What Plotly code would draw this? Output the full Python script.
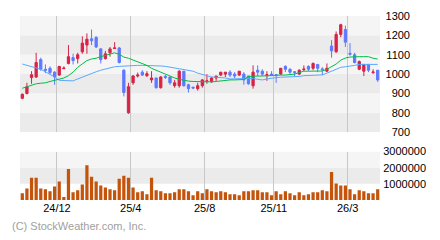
import plotly.graph_objects as go

idx = list(range(78))

opens = [875, 900, 982, 985, 1075, 1025, 1030, 1010, 995, 1028,
         1055, 1085, 1080, 1115, 1150, 1182, 1190, 1130, 1080, 1110,
         1132, 1135, 1020, 800, 955, 990, 1010, 992, 970, 980,
         930, 988, 985, 940, 940, 1015, 945, 932, 925, 940,
         962, 960, 980, 995, 1000, 1010, 1000, 995, 1000, 990,
         940, 1020, 1015, 993, 1000, 997, 1000, 1040, 1025, 1012,
         1000, 1023, 1040, 1030, 1050, 1027, 1015, 1145, 1115, 1205,
         1230, 1107, 1100, 1025, 1015, 1050, 1008, 1020]
highs = [900, 955, 1015, 1110, 1085, 1050, 1040, 1015, 1040, 1040,
         1150, 1105, 1110, 1195, 1210, 1230, 1195, 1135, 1120, 1140,
         1165, 1140, 1025, 955, 995, 1008, 1020, 1015, 1015, 980,
         990, 995, 985, 970, 1020, 1015, 950, 935, 955, 975,
         1000, 985, 990, 1010, 1010, 1020, 1010, 1015, 1010, 990,
         1045, 1045, 1025, 1015, 1015, 1000, 1030, 1045, 1030, 1015,
         1025, 1045, 1045, 1060, 1050, 1035, 1055, 1175, 1220, 1260,
         1250, 1160, 1110, 1070, 1050, 1050, 1025, 1020]
lows = [870, 895, 950, 980, 1017, 1005, 1000, 945, 990, 1027,
        1050, 1050, 1055, 1105, 1105, 1150, 1135, 1055, 1075, 1090,
        1130, 1055, 885, 795, 945, 983, 990, 985, 955, 925,
        925, 975, 945, 930, 930, 935, 905, 925, 915, 930,
        950, 955, 965, 990, 985, 985, 980, 990, 945, 945,
        925, 990, 990, 965, 990, 955, 995, 1010, 1000, 990,
        995, 1015, 1015, 1020, 1010, 995, 1010, 1085, 1110, 1190,
        1140, 1095, 1055, 1020, 990, 1010, 1000, 960]
closes = [896, 935, 997, 1060, 1025, 1020, 1008, 985, 1040, 1031,
          1090, 1070, 1100, 1160, 1180, 1172, 1140, 1075, 1105, 1130,
          1135, 1060, 905, 935, 990, 995, 995, 1002, 980, 930,
          985, 983, 955, 955, 1015, 940, 925, 928, 940, 970,
          965, 980, 990, 1010, 1010, 995, 990, 1015, 970, 950,
          1010, 1010, 1000, 997, 995, 994, 1030, 1025, 1010, 1009,
          1020, 1026, 1025, 1055, 1030, 1024, 1030, 1120, 1205, 1255,
          1165, 1103, 1060, 1065, 1050, 1020, 1011, 970]

volumes = [420000, 720000, 1380000, 1380000, 720000, 660000, 540000, 840000, 1140000, 180000,
           1920000, 480000, 600000, 960000, 2160000, 1440000, 1140000, 900000, 780000, 660000,
           600000, 1320000, 1500000, 1380000, 780000, 480000, 540000, 360000, 1380000, 600000,
           540000, 420000, 420000, 480000, 660000, 660000, 540000, 300000, 540000, 420000,
           660000, 540000, 480000, 540000, 480000, 360000, 360000, 300000, 540000, 540000,
           600000, 600000, 480000, 480000, 300000, 540000, 360000, 540000, 420000, 300000,
           480000, 300000, 360000, 480000, 480000, 600000, 540000, 1740000, 1020000, 900000,
           900000, 660000, 360000, 600000, 540000, 420000, 420000, 660000]

ma_short = [927, 935, 945, 950, 953, 955, 962, 968, 972, 980,
            992, 1010, 1035, 1052, 1070, 1078, 1082, 1090, 1097, 1105,
            1110, 1102, 1088, 1082, 1073, 1065, 1057, 1045, 1030, 1020,
            1008, 1000, 990, 980, 973, 967, 964, 962, 961, 960,
            960, 960, 962, 965, 970, 970, 970, 970, 972, 988,
            990, 990, 990, 992, 993, 994, 995, 995, 997, 1000,
            1008, 1015, 1015, 1015, 1015, 1016, 1025, 1040, 1052, 1072,
            1083, 1088, 1090, 1090, 1090, 1090, 1082, 1078]
ma_long = [1052, 1045, 1040, 1030, 1025, 1012, 1000, 985, 968, 966,
           965, 965, 975, 985, 995, 1005, 1012, 1020, 1027, 1032,
           1038, 1040, 1042, 1043, 1044, 1045, 1045, 1045, 1045, 1044,
           1042, 1040, 1036, 1032, 1028, 1024, 1020, 1015, 1005, 998,
           990, 985, 984, 983, 980, 975, 975, 975, 975, 977,
           978, 973, 970, 975, 980, 982, 984, 985, 985, 985,
           988, 992, 993, 994, 995, 996, 1005, 1015, 1025, 1035,
           1038, 1040, 1045, 1050, 1050, 1050, 1050, 1050]

tick_pos = [7.5, 23.5, 39.5, 54.5, 70.5]
tick_text = ["24/12", "25/4", "25/8", "25/11", "26/3"]
price_ticks = [700, 800, 900, 1000, 1100, 1200, 1300]
vol_ticks = [1000000, 2000000, 3000000]

RED = "#d72346"
BLUE = "#5f78ff"
FONT = "Liberation Sans, Arial, sans-serif"

fig = go.Figure()

fig.add_trace(go.Candlestick(
    x=idx, open=opens, high=highs, low=lows, close=closes,
    xaxis="x2", yaxis="y2", whiskerwidth=0,
    increasing=dict(line=dict(color=RED, width=1), fillcolor=RED),
    decreasing=dict(line=dict(color=BLUE, width=1), fillcolor=BLUE),
    showlegend=False, hoverinfo="skip"))
fig.add_trace(go.Scatter(x=idx, y=ma_long, mode="lines", xaxis="x2", yaxis="y2",
                         line=dict(color="#5aaaff", width=1), showlegend=False))
fig.add_trace(go.Scatter(x=idx, y=ma_short, mode="lines", xaxis="x2", yaxis="y2",
                         line=dict(color="#00be46", width=1), showlegend=False))
fig.add_trace(go.Bar(x=idx, y=volumes, marker=dict(color="#c4530c", line=dict(width=0)),
                     xaxis="x", yaxis="y", showlegend=False))

W = 406.0
H = 190.0
xdom = [0, 360 / W]

shapes = []
for i, (lo, hi) in enumerate(zip(price_ticks[:-1], price_ticks[1:])):
    col = "#ebebeb" if i % 2 == 0 else "#f5f5f5"
    shapes.append(dict(type="rect", xref="x2 domain", yref="y2", x0=0, x1=1, y0=lo, y1=hi,
                       fillcolor=col, line=dict(width=0), layer="below"))
vb = [0] + vol_ticks
vcols = ["#ffffff", "#ebebeb", "#f5f5f5"]
for lo, hi, col in zip(vb[:-1], vb[1:], vcols):
    shapes.append(dict(type="rect", xref="x domain", yref="y", x0=0, x1=1, y0=lo, y1=hi,
                       fillcolor=col, line=dict(width=0), layer="below"))

fig.update_layout(
    width=440, height=240,
    margin=dict(l=20, r=14, t=10, b=40),
    paper_bgcolor="white", plot_bgcolor="white",
    font=dict(family=FONT, size=11, color="black"),
    bargap=0.3,
    shapes=shapes,
    xaxis=dict(domain=xdom, range=[-0.5, 77.5], anchor="y",
               tickmode="array", tickvals=tick_pos, ticktext=tick_text,
               showgrid=True, gridcolor="#c8c8c8", gridwidth=1,
               zeroline=False, showline=False, ticks="",
               tickfont=dict(size=11, family=FONT, color="black"), fixedrange=True),
    xaxis2=dict(domain=xdom, range=[-0.5, 77.5], anchor="y2", matches="x",
                tickmode="array", tickvals=tick_pos, showticklabels=False,
                showgrid=True, gridcolor="#c8c8c8", gridwidth=1,
                zeroline=False, showline=False, ticks="",
                rangeslider=dict(visible=False)),
    yaxis=dict(domain=[0, 50 / H], range=[0, 3000000], anchor="free", position=1.0,
               side="left", tickmode="array", tickvals=vol_ticks,
               ticktext=[str(v) for v in vol_ticks],
               showgrid=False, zeroline=False, showline=False, ticks="",
               tickfont=dict(size=11, family=FONT, color="black")),
    yaxis2=dict(domain=[1 - 120 / H, 1], range=[700, 1300], anchor="free",
                position=(410 - 20) / W, side="left", tickmode="array",
                tickvals=price_ticks, ticktext=[str(v) for v in price_ticks],
                showgrid=False, zeroline=False, showline=False, ticks="",
                tickfont=dict(size=11, family=FONT, color="black")),
    annotations=[dict(text="(C) StockWeather.com, Inc.", xref="paper", yref="paper",
                      x=(10 - 20) / W, y=(200 - 227) / H, xanchor="left", yanchor="middle",
                      showarrow=False, font=dict(size=11, family=FONT, color="#a0a0a0"))],
)

fig.write_html("out.html")
